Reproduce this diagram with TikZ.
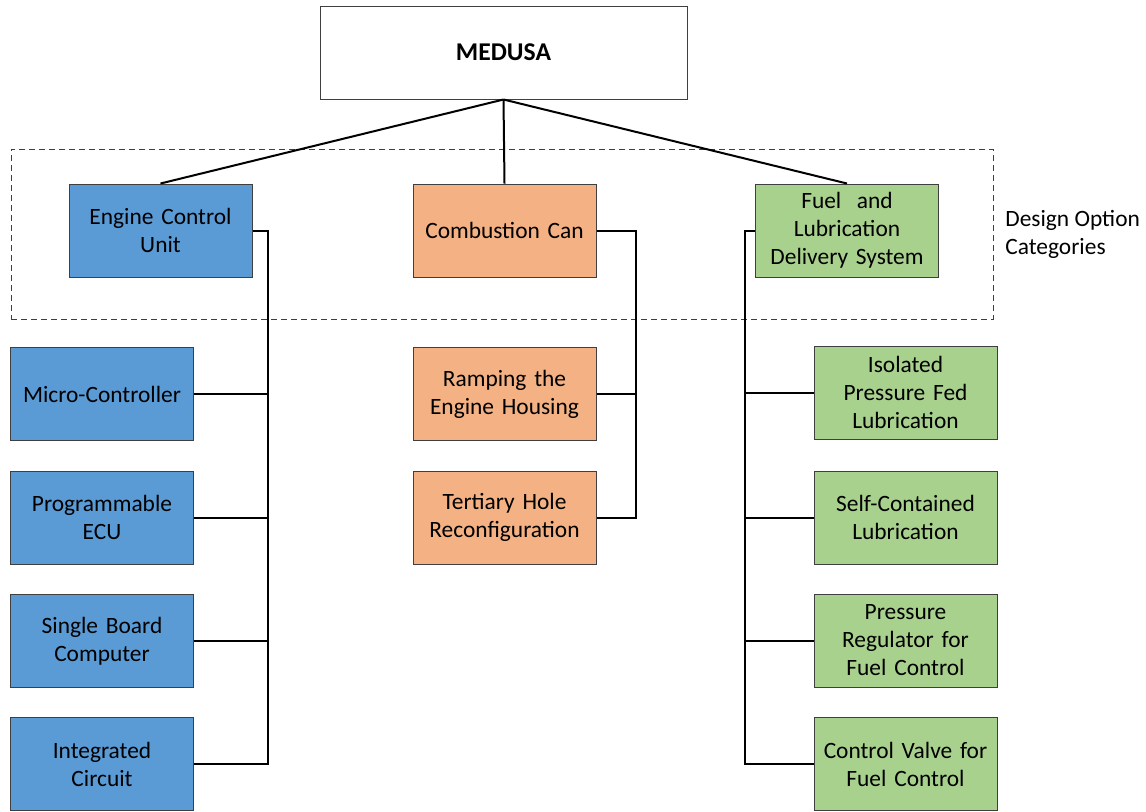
\documentclass[tikz,border=0pt]{standalone}
\usepackage{fontspec}
\setmainfont{Carlito}
\usepackage{tikz}
\usetikzlibrary{positioning}
\definecolor{ecublue}{HTML}{5B9BD5}
\definecolor{canorange}{HTML}{F4B183}
\definecolor{fuelgreen}{HTML}{A9D18E}
\definecolor{edgegray}{HTML}{3F3F3F}

\begin{document}
\begin{tikzpicture}[x=0.5pt,y=-0.5pt,
box/.style={draw=edgegray,line width=0.5pt,rectangle,minimum width=91.5pt,minimum height=46.5pt,
  text width=88pt,align=center,inner sep=0pt,font=\fontsize{11.7}{14}\selectfont},
ecubox/.style={box,fill=ecublue},
canbox/.style={box,fill=canorange},
fuelbox/.style={box,fill=fuelgreen},
link/.style={line width=1pt,black}]
\useasboundingbox (0,0) rectangle (1146,811);

% categories frame
\node (cats) [draw=edgegray,dashed,dash pattern=on 3pt off 2pt,line width=0.5pt,
    minimum width=491pt,minimum height=85pt,inner sep=0pt] at (502,234) {};
\node (catlabel) [anchor=west,align=left,inner sep=0pt,font=\fontsize{11.7}{14}\selectfont] at (1005,234)
    {Design Option\\Categories};

\node (medusa) [box,fill=white,minimum width=183.5pt,text width=150pt,font=\fontsize{12.8}{14}\selectfont\bfseries]
    at (503.5,52.5) {MEDUSA};

\node (ecu) [ecubox] at (160.5,230.5) {Engine Control\\Unit};
\node (can) [canbox] at (504.5,230.5) {Combustion Can};
\node (fuel) [fuelbox] at (847,230.5) {Fuel~ and\\Lubrication\\Delivery System};

% engine control unit options
\node (micro) [ecubox] at (102,394) {Micro-Controller};
\node (progecu) [ecubox] at (102,517.5) {Programmable\\ECU};
\node (sbc) [ecubox] at (102,641) {Single Board\\Computer};
\node (ic) [ecubox] at (102,764) {Integrated\\Circuit};

% combustion can options
\node (ramp) [canbox] at (504.5,394) {Ramping the\\Engine Housing};
\node (tertiary) [canbox] at (504.5,517.5) {Tertiary Hole\\Reconfiguration};

% fuel and lubrication options
\node (isolated) [fuelbox] at (905.5,392.5) {Isolated\\Pressure Fed\\Lubrication};
\node (selfcont) [fuelbox] at (905.5,517.5) {Self-Contained\\Lubrication};
\node (regulator) [fuelbox] at (905.5,640.5) {Pressure\\Regulator for\\Fuel Control};
\node (valve) [fuelbox] at (905.5,764) {Control Valve for\\Fuel Control};

\coordinate (lbus) at (268,0);
\coordinate (cbus) at (636,0);
\coordinate (rbus) at (745,0);

\draw [link] (medusa.south) -- (ecu.north);
\draw [link] (medusa.south) -- (can.north);
\draw [link] (medusa.south) -- (fuel.north);

\draw [link] (ecu.east) -| (lbus |- ic.east) -- (ic.east);
\foreach \opt in {micro,progecu,sbc}
  \draw [link] (\opt.east) -- (\opt.east -| lbus);

\draw [link] (can.east) -| (cbus |- tertiary.east) -- (tertiary.east);
\draw [link] (ramp.east) -- (ramp.east -| cbus);

\draw [link] (fuel.west) -| (rbus |- valve.west) -- (valve.west);
\foreach \opt in {isolated,selfcont,regulator}
  \draw [link] (\opt.west) -- (\opt.west -| rbus);
\end{tikzpicture}
\end{document}
